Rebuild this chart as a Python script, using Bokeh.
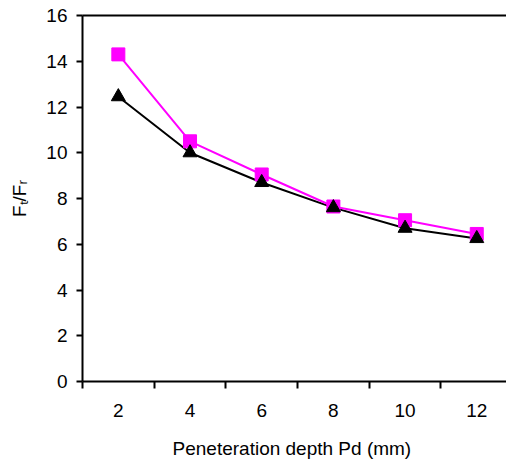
from bokeh.plotting import figure
from bokeh.models import FixedTicker, LinearAxis, Range1d
from bokeh.embed import file_html
from bokeh.resources import INLINE

depth = [2, 4, 6, 8, 10, 12]
ratio_pink = [14.3, 10.5, 9.05, 7.65, 7.05, 6.45]
ratio_black = [12.45, 10.0, 8.7, 7.6, 6.7, 6.25]
x_labels = [2, 4, 6, 8, 10, 12]
x_minor = [1, 3, 5, 7, 9, 11, 13]
y_ticks = [0, 2, 4, 6, 8, 10, 12, 14, 16]

FONT = "Liberation Sans"

p = figure(width=506, height=464, output_backend="svg", toolbar_location=None,
           x_range=Range1d(1, 12.83), y_range=Range1d(0, 16),
           min_border_left=82, min_border_right=0, min_border_top=15, min_border_bottom=83)
p.outline_line_color = None
p.grid.visible = False
p.background_fill_color = "white"
p.border_fill_color = "white"

xa = p.xaxis[0]
xa.ticker = FixedTicker(ticks=x_labels, minor_ticks=x_minor)
xa.major_tick_out = 0
xa.major_tick_in = 0
xa.minor_tick_out = 7
xa.minor_tick_in = 0
xa.minor_tick_line_color = "black"
xa.minor_tick_line_width = 2
xa.axis_line_width = 2
xa.axis_line_color = "black"
xa.major_label_standoff = 15
xa.major_label_text_font = FONT
xa.major_label_text_font_size = "19px"
xa.major_label_text_color = "black"
xa.axis_label = "Peneteration depth Pd  (mm)"
xa.axis_label_text_font = FONT
xa.axis_label_text_font_size = "19px"
xa.axis_label_text_font_style = "normal"
xa.axis_label_text_color = "black"
xa.axis_label_standoff = 18

ya = p.yaxis[0]
ya.ticker = FixedTicker(ticks=y_ticks, minor_ticks=[])
ya.major_tick_out = 6
ya.major_tick_in = 0
ya.major_tick_line_width = 2
ya.axis_line_width = 2
ya.axis_line_color = "black"
ya.major_label_standoff = 9
ya.major_label_text_font = FONT
ya.major_label_text_font_size = "19px"
ya.major_label_text_color = "black"
ya.axis_label = "F\u209c/F\u1d63"
ya.axis_label_text_font = FONT
ya.axis_label_text_font_size = "19px"
ya.axis_label_text_font_style = "normal"
ya.axis_label_text_color = "black"
ya.axis_label_standoff = 13

top = LinearAxis(ticker=FixedTicker(ticks=[]), major_label_text_alpha=0,
                 major_tick_out=0, major_tick_in=0, minor_tick_out=0, minor_tick_in=0,
                 axis_line_width=2, axis_line_color="black")
p.add_layout(top, "above")

p.line(depth, ratio_black, line_color="black", line_width=2)
p.line(depth, ratio_pink, line_color="#FF00FF", line_width=2)
p.scatter(depth, ratio_pink, marker="square", size=13, fill_color="#FF00FF", line_color="#FF00FF")
p.scatter(depth, ratio_black, marker="triangle", size=14, fill_color="black", line_color="black")

open("out.html", "w").write(file_html(p, INLINE))
